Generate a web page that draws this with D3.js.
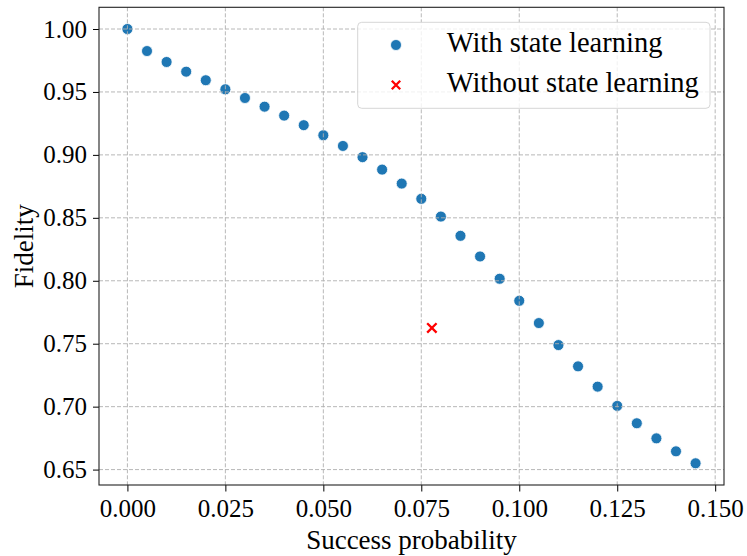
<!DOCTYPE html>
<html>
<head>
<meta charset="utf-8">
<script src="https://cdn.jsdelivr.net/npm/d3@7"></script>
<style>
  html, body { margin: 0; padding: 0; background: #fff; }
  svg { display: block; }
  text { font-family: "Liberation Serif", "DejaVu Serif", serif; fill: #000; }
</style>
</head>
<body>
<svg id="chart" width="747" height="556"></svg>
<script>
// ---- data ----
const successProb = [0.000, 0.005, 0.010, 0.015, 0.020, 0.025, 0.030, 0.035, 0.040, 0.045,
                     0.050, 0.055, 0.060, 0.065, 0.070, 0.075, 0.080, 0.085, 0.090, 0.095,
                     0.100, 0.105, 0.110, 0.115, 0.120, 0.125, 0.130, 0.135, 0.140, 0.145];
const fidelity = [1.0000, 0.9825, 0.9738, 0.9661, 0.9593, 0.9521, 0.9452, 0.9383, 0.9312, 0.9236,
                  0.9156, 0.9071, 0.8982, 0.8883, 0.8772, 0.8651, 0.8510, 0.8357, 0.8193, 0.8016,
                  0.7841, 0.7664, 0.7489, 0.7320, 0.7159, 0.7006, 0.6868, 0.6748, 0.6645, 0.6550];
const noLearnProb = [0.0777];
const noLearnFidelity = [0.7625];
const xTicks = [0.000, 0.025, 0.050, 0.075, 0.100, 0.125, 0.150];
const yTicks = [0.65, 0.70, 0.75, 0.80, 0.85, 0.90, 0.95, 1.00];
const seriesNames = ["With state learning", "Without state learning"];
const xLabel = "Success probability";
const yLabel = "Fidelity";

// ---- layout ----
const plot = { left: 99, right: 724, top: 7.3, bottom: 485 };
const svg = d3.select("#chart");

const x = d3.scaleLinear().domain([-0.00725, 0.15225]).range([plot.left, plot.right]);
const y = d3.scaleLinear().domain([0.63775, 1.01725]).range([plot.bottom, plot.top]);

const blue = "#1f77b4";
const red = "#ff0000";

// points (below grid, like matplotlib default)
const pts = successProb.map((p, i) => ({ p, f: fidelity[i] }));
svg.append("g").selectAll("circle").data(pts).join("circle")
  .attr("cx", d => x(d.p)).attr("cy", d => y(d.f)).attr("r", 5.5)
  .attr("fill", blue).attr("stroke", "#fff").attr("stroke-width", 0.8);

const crossPts = noLearnProb.map((p, i) => ({ p, f: noLearnFidelity[i] }));
const cross = (g, s) => g.append("path")
  .attr("d", `M${-s},${-s}L${s},${s}M${-s},${s}L${s},${-s}`)
  .attr("stroke", red).attr("stroke-width", 2.3).attr("fill", "none");
svg.append("g").selectAll("g").data(crossPts).join("g")
  .attr("transform", d => `translate(${x(d.p)},${y(d.f)})`)
  .each(function () { cross(d3.select(this), 4.7); });

// grid
const grid = svg.append("g").attr("stroke", "#b0b0b0").attr("stroke-width", 0.9)
  .attr("stroke-dasharray", "4,2");
grid.selectAll("line.v").data(xTicks).join("line").attr("class", "v")
  .attr("x1", d => x(d)).attr("x2", d => x(d)).attr("y1", plot.top).attr("y2", plot.bottom);
grid.selectAll("line.h").data(yTicks).join("line").attr("class", "h")
  .attr("y1", d => y(d)).attr("y2", d => y(d)).attr("x1", plot.left).attr("x2", plot.right);

// axes
const xAxis = d3.axisBottom(x).tickValues(xTicks).tickFormat(d3.format(".3f"))
  .tickSize(6.5).tickPadding(6);
const gx = svg.append("g").attr("transform", `translate(0,${plot.bottom})`).call(xAxis);
gx.select(".domain").remove();
gx.selectAll("line").attr("stroke", "#000").attr("stroke-width", 1);
gx.selectAll("text").attr("font-size", 25).attr("font-family", "Liberation Serif")
  .attr("dy", null).attr("y", 32);

const yAxis = d3.axisLeft(y).tickValues(yTicks).tickFormat(d3.format(".2f"))
  .tickSize(6).tickPadding(6);
const gy = svg.append("g").attr("transform", `translate(${plot.left},0)`).call(yAxis);
gy.select(".domain").remove();
gy.selectAll("line").attr("stroke", "#000").attr("stroke-width", 1);
gy.selectAll("text").attr("font-size", 25).attr("font-family", "Liberation Serif")
  .attr("dy", "0.32em").attr("x", -12);

// spines
svg.append("rect")
  .attr("x", plot.left).attr("y", plot.top)
  .attr("width", plot.right - plot.left).attr("height", plot.bottom - plot.top)
  .attr("fill", "none").attr("stroke", "#222").attr("stroke-width", 1.1);

// axis labels
svg.append("text").attr("x", (plot.left + plot.right) / 2).attr("y", 548.5)
  .attr("text-anchor", "middle").attr("font-size", 27).text(xLabel);
svg.append("text")
  .attr("transform", `translate(33,${(plot.top + plot.bottom) / 2}) rotate(-90)`)
  .attr("text-anchor", "middle").attr("font-size", 27).text(yLabel);

// legend
const lg = svg.append("g");
lg.append("rect").attr("x", 357.7).attr("y", 22.3).attr("width", 352.3).attr("height", 86)
  .attr("rx", 4).attr("fill", "#fff").attr("fill-opacity", 0.8)
  .attr("stroke", "#d6d6d6").attr("stroke-width", 1);
const legendRows = [{ name: seriesNames[0], kind: "dot" }, { name: seriesNames[1], kind: "cross" }];
const rowY = [45, 85];
legendRows.forEach((r, i) => {
  const g = lg.append("g").attr("transform", `translate(396,${rowY[i]})`);
  if (r.kind === "dot") {
    g.append("circle").attr("r", 5.5).attr("fill", blue).attr("stroke", "#fff").attr("stroke-width", 0.8);
  } else {
    cross(g, 4.2);
  }
  lg.append("text").attr("x", 446.7).attr("y", rowY[i] + 7)
    .attr("font-size", 28.5).text(r.name);
});
</script>
</body>
</html>
